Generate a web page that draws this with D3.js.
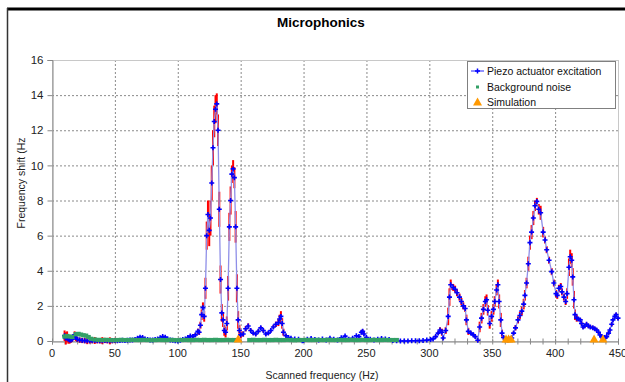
<!DOCTYPE html>
<html>
<head>
<meta charset="utf-8">
<script src="https://cdn.jsdelivr.net/npm/d3@7"></script>
<style>
  body { margin: 0; background: #fff; }
  svg { font-family: "Liberation Sans", Arial, sans-serif; }
</style>
</head>
<body>
<svg id="chart" width="625" height="382"></svg>
<script>
// Piezo actuator excitation: frequency (Hz), shift (Hz), error bar (Hz)
const piezoHz = [10, 11, 12, 13, 14, 15, 16, 17, 18, 19, 20, 22, 24, 26, 28, 30, 32, 34, 36, 38, 40, 42, 44, 46, 48, 50,
  52, 54, 56, 58, 60, 62, 64, 66, 68, 70, 72, 74, 76, 78, 80, 82, 84, 86, 88, 90, 92, 94, 96, 98, 100,
  102, 104, 106, 108, 110, 112, 114, 116, 117, 118, 119, 120, 121, 122, 123, 124, 125, 126, 127, 128, 129, 130,
  131, 132, 133, 134, 135, 136, 137, 138, 139, 140, 141, 142, 143, 144, 145, 146, 147, 148, 149, 150,
  152, 154, 156, 158, 160, 162, 164, 166, 168, 170, 172, 174, 176, 178, 180, 181, 182, 183, 184, 186, 188, 190,
  193, 196, 199, 200, 203, 206, 209, 212, 215, 218, 221, 224, 227, 230, 233, 236, 239, 242, 244, 246, 247, 248, 250,
  253, 256, 259, 262, 265, 268, 271, 274, 277, 280, 283, 286, 289, 292, 295, 298, 301, 303, 305, 307, 308.5, 310,
  311, 313, 315, 316, 317, 319, 320.5, 322, 324, 325.5, 327, 328.5, 329.5, 331, 333, 335, 336.5, 338.5, 340,
  341.5, 343, 344.5, 345.5, 346.5, 348, 349.5, 351, 352, 353.5, 354.5, 355.5, 356.8, 357.8, 359, 360.5, 362.5,
  364, 365.5, 367, 368.5, 370.5, 372, 373.5, 375, 376, 377.3, 378.7, 380, 381.3, 382.7, 384, 385.5, 387, 388.5,
  390.5, 392, 393.3, 395.2, 397.3, 399, 400.7, 401.7, 403, 404.5, 405.5, 407, 408.4, 409.5, 411, 412, 413.2,
  414, 415, 415.8, 417.2, 418.5, 420, 421, 422.2, 423.5, 425, 426.5, 428, 430, 431.5, 433, 434.5, 435.7, 437,
  438, 439.5, 441, 442.5, 443.6, 445, 446, 447.5, 448.5, 450];
const piezoShift = [0.30, 0.15, 0.25, 0.10, 0.05, 0.05, 0.10, 0.20, 0.35, 0.20, 0.10, 0.05, 0.03, 0.02, 0.02, 0.01, 0.02, 0.03, 0.02, 0.01, 0.02, 0.03, 0.02, 0.01, 0.02, 0.03,
  0.02, 0.03, 0.04, 0.03, 0.04, 0.05, 0.06, 0.08, 0.15, 0.22, 0.20, 0.12, 0.08, 0.05, 0.06, 0.08, 0.12, 0.18, 0.25, 0.22, 0.12, 0.06, 0.04, 0.02, 0.00,
  0.04, 0.08, 0.12, 0.20, 0.28, 0.25, 0.35, 0.55, 0.50, 0.90, 1.50, 1.90, 1.40, 3.00, 6.00, 7.20, 6.30, 7.00, 9.00, 11.0, 12.5, 13.2,
  13.5, 12.0, 7.5, 3.5, 1.6, 1.2, 0.6, 0.5, 1.0, 3.0, 6.5, 8.0, 9.5, 9.8, 9.3, 6.5, 3.0, 1.2, 0.6, 0.35,
  0.40, 0.70, 0.85, 0.60, 0.45, 0.40, 0.55, 0.75, 0.60, 0.40, 0.45, 0.60, 0.80, 0.95, 1.05, 1.25, 1.40, 1.00, 0.50, 0.30, 0.20, 0.15,
  0.12, 0.10, 0.02, 0.03, 0.10, 0.14, 0.08, 0.05, 0.12, 0.06, 0.15, 0.10, 0.05, 0.18, 0.28, 0.10, 0.15, 0.30, 0.25, 0.50, 0.55, 0.40, 0.20,
  0.10, 0.06, 0.10, 0.14, 0.12, 0.08, 0.03, 0.01, 0.00, 0.00, 0.00, 0.01, 0.01, 0.02, 0.03, 0.05, 0.08, 0.12, 0.25, 0.45, 0.63, 0.50,
  0.17, 0.60, 1.40, 2.50, 3.20, 3.05, 2.95, 2.75, 2.50, 2.25, 2.00, 1.85, 1.20, 0.55, 0.45, 0.35, 0.25, 0.04, 0.80,
  1.30, 1.80, 2.25, 2.35, 1.75, 1.00, 1.40, 1.80, 2.25, 2.90, 3.20, 2.25, 1.20, 0.45, 0.20, 0.10, 0.05,
  0.10, 0.17, 0.45, 0.75, 1.20, 1.45, 1.70, 2.10, 2.60, 3.30, 4.40, 5.60, 6.20, 7.00, 7.70, 7.95, 7.50, 7.30,
  6.20, 5.75, 5.20, 4.60, 3.95, 3.30, 2.70, 2.60, 3.00, 3.10, 2.80, 2.50, 2.25, 2.70, 4.20, 4.80, 4.60,
  3.65, 2.35, 1.50, 1.30, 1.25, 1.20, 1.00, 0.80, 0.85, 0.95, 0.85, 0.80, 0.75, 0.70, 0.63, 0.50, 0.34, 0.25,
  0.17, 0.20, 0.25, 0.45, 0.63, 0.95, 1.20, 1.40, 1.50, 1.30];
const piezoErr = [0.30, 0.35, 0.30, 0.25, 0.20, 0.15, 0.15, 0.15, 0.20, 0.20, 0.15, 0.15, 0.15, 0.15, 0.20, 0.15, 0.15, 0.20, 0.15, 0.15, 0.20, 0.15, 0.15, 0.20, 0.15, 0.15,
  0.10, 0.08, 0.06, 0.05, 0.05, 0.05, 0.05, 0.05, 0.05, 0.06, 0.06, 0.05, 0.05, 0.05, 0.05, 0.05, 0.05, 0.06, 0.06, 0.06, 0.05, 0.05, 0.05, 0.05, 0.05,
  0.05, 0.05, 0.05, 0.06, 0.08, 0.08, 0.10, 0.15, 0.15, 0.20, 0.30, 0.30, 0.30, 0.60, 0.80, 0.80, 0.90, 1.00, 1.00, 1.00, 0.90, 0.80,
  0.60, 0.90, 1.00, 0.80, 0.50, 0.40, 0.30, 0.30, 0.40, 0.70, 0.80, 0.80, 0.50, 0.50, 0.60, 0.90, 0.80, 0.50, 0.30, 0.20,
  0.15, 0.15, 0.15, 0.10, 0.10, 0.10, 0.10, 0.10, 0.10, 0.10, 0.10, 0.10, 0.10, 0.15, 0.20, 0.25, 0.30, 0.30, 0.20, 0.10, 0.05, 0.05,
  0.05, 0.05, 0.08, 0.08, 0.05, 0.05, 0.05, 0.05, 0.05, 0.05, 0.05, 0.05, 0.05, 0.05, 0.05, 0.05, 0.05, 0.05, 0.08, 0.10, 0.10, 0.10, 0.05,
  0.05, 0.05, 0.05, 0.05, 0.05, 0.05, 0.03, 0.03, 0.02, 0.02, 0.02, 0.02, 0.02, 0.02, 0.02, 0.03, 0.03, 0.05, 0.08, 0.10, 0.15, 0.20,
  0.10, 0.20, 0.50, 0.50, 0.30, 0.20, 0.20, 0.20, 0.20, 0.20, 0.20, 0.20, 0.30, 0.20, 0.10, 0.10, 0.10, 0.10, 0.30,
  0.30, 0.30, 0.30, 0.30, 0.30, 0.30, 0.30, 0.30, 0.30, 0.30, 0.30, 0.40, 0.40, 0.20, 0.10, 0.05, 0.05,
  0.05, 0.10, 0.10, 0.15, 0.20, 0.20, 0.25, 0.30, 0.30, 0.30, 0.40, 0.40, 0.40, 0.40, 0.30, 0.20, 0.30, 0.40,
  0.30, 0.20, 0.20, 0.20, 0.20, 0.20, 0.20, 0.20, 0.20, 0.20, 0.20, 0.20, 0.20, 0.30, 0.50, 0.40, 0.40,
  0.50, 0.50, 0.30, 0.20, 0.10, 0.10, 0.10, 0.10, 0.10, 0.10, 0.10, 0.10, 0.10, 0.10, 0.10, 0.10, 0.10, 0.10,
  0.10, 0.10, 0.10, 0.10, 0.10, 0.10, 0.10, 0.10, 0.10, 0.10];

// Background noise
const noiseHz = [10, 12, 14, 16, 19, 21, 23, 25, 27, 29, 31, 34, 37, 40, 43, 46, 49, 52, 55, 58, 61, 64, 67, 70,
  73, 76, 79, 82, 85, 88, 91, 94, 97, 100, 103, 106, 109, 112, 115, 118, 121, 124, 127, 130, 133, 136, 139, 142, 145,
  157, 160, 163, 166, 169, 172, 175, 178, 181, 184, 187, 190, 193, 196, 199, 202, 205, 208, 211, 214, 217, 220,
  223, 226, 229, 232, 235, 238, 241, 244, 247, 250, 253, 256, 259, 262, 265, 268, 271, 274];
const noiseShift = [0.25, 0.28, 0.25, 0.22, 0.38, 0.40, 0.36, 0.32, 0.30, 0.22, 0.12, 0.08, 0.06, 0.05, 0.06, 0.05, 0.04, 0.05, 0.06, 0.05, 0.05, 0.06, 0.05, 0.05,
  0.06, 0.05, 0.04, 0.05, 0.06, 0.05, 0.05, 0.06, 0.05, 0.04, 0.05, 0.06, 0.05, 0.05, 0.06, 0.05, 0.06, 0.05, 0.05, 0.06, 0.05, 0.05, 0.06, 0.05, 0.05,
  0.05, 0.06, 0.05, 0.05, 0.06, 0.05, 0.05, 0.06, 0.05, 0.05, 0.06, 0.05, 0.04, 0.05, 0.05, 0.06, 0.05, 0.05, 0.06, 0.05, 0.05, 0.06,
  0.05, 0.05, 0.06, 0.05, 0.05, 0.06, 0.05, 0.05, 0.06, 0.05, 0.05, 0.06, 0.05, 0.05, 0.06, 0.05, 0.05, 0.05];

// Simulation
const simHz = [148, 361, 363, 365, 431, 438];
const simShift = [0, 0, 0, 0, 0, 0];

const xTicks = [0, 50, 100, 150, 200, 250, 300, 350, 400, 450];
const yTicks = [0, 2, 4, 6, 8, 10, 12, 14, 16];

const W = 625, H = 382;
const margin = { top: 60, right: 7, bottom: 41, left: 52 };
const iw = W - margin.left - margin.right;
const ih = H - margin.top - margin.bottom;

const svg = d3.select('#chart');

// page frame of the scanned document
svg.append('line').attr('x1', 7).attr('x2', W).attr('y1', 9).attr('y2', 9)
  .attr('stroke', '#000').attr('stroke-width', 3);
svg.append('line').attr('x1', 7.5).attr('x2', 7.5).attr('y1', 8).attr('y2', H)
  .attr('stroke', '#333').attr('stroke-width', 1.5);

svg.append('text').attr('x', 321).attr('y', 27).attr('text-anchor', 'middle')
  .attr('font-size', 13.5).attr('font-weight', 'bold').text('Microphonics');

const g = svg.append('g').attr('transform', 'translate(' + margin.left + ',' + margin.top + ')');

const x = d3.scaleLinear().domain([0, 450]).range([0, iw]);
const y = d3.scaleLinear().domain([0, 16]).range([ih, 0]);

// grid
g.append('g').selectAll('line').data(yTicks.filter(d => d > 0 && d < 16)).enter().append('line')
  .attr('x1', 0).attr('x2', iw).attr('y1', d => y(d) + 0.5).attr('y2', d => y(d) + 0.5)
  .attr('stroke', '#8a8a8a').attr('stroke-dasharray', '2,2');
g.append('g').selectAll('line').data(xTicks.filter(d => d > 0 && d < 450)).enter().append('line')
  .attr('y1', 0).attr('y2', ih).attr('x1', d => x(d) + 0.5).attr('x2', d => x(d) + 0.5)
  .attr('stroke', '#8a8a8a').attr('stroke-dasharray', '2,2');
g.append('rect').attr('x', 0.5).attr('y', 0.5).attr('width', iw).attr('height', ih)
  .attr('fill', 'none').attr('stroke', '#c8c8c8');

// axes
const xAxis = g.append('g').attr('transform', 'translate(0,' + (ih + 0.5) + ')')
  .call(d3.axisBottom(x).tickValues(d3.range(0, 451, 10)).tickSize(3).tickFormat(''));
xAxis.select('.domain').attr('stroke', '#888');
xAxis.selectAll('.tick line').attr('stroke', '#888').attr('y1', -3);
g.append('g').selectAll('text').data(xTicks).enter().append('text')
  .attr('x', d => x(d)).attr('y', ih + 16).attr('text-anchor', 'middle')
  .attr('font-size', 11).attr('fill', '#222').text(d => d);

const yAxis = g.append('g').attr('transform', 'translate(0.5,0)')
  .call(d3.axisLeft(y).tickValues(yTicks).tickSize(5).tickPadding(4));
yAxis.select('.domain').attr('stroke', '#888');
yAxis.selectAll('.tick line').attr('stroke', '#888');
yAxis.selectAll('.tick text').attr('font-size', 11.5).attr('fill', '#222')
  .attr('font-family', '"Liberation Sans", Arial, sans-serif');

svg.append('text').attr('x', 322).attr('y', 379).attr('text-anchor', 'middle')
  .attr('font-size', 10.5).attr('fill', '#222').text('Scanned frequency (Hz)');
svg.append('text').attr('transform', 'translate(25,183) rotate(-90)').attr('text-anchor', 'middle')
  .attr('font-size', 10.5).attr('fill', '#222').text('Frequency shift (Hz');

const piezo = piezoHz.map((f, i) => ({ f: f, v: piezoShift[i], e: piezoErr[i] }));
const noise = noiseHz.map((f, i) => ({ f: f, v: noiseShift[i] }));
const sim = simHz.map((f, i) => ({ f: f, v: simShift[i] }));

// error bars
g.append('g').selectAll('line').data(piezo).enter().append('line')
  .attr('x1', d => x(d.f)).attr('x2', d => x(d.f))
  .attr('y1', d => y(d.v - d.e)).attr('y2', d => y(d.v + d.e))
  .attr('stroke', '#ff0000').attr('stroke-width', 2);

// piezo line and markers
g.append('path').datum(piezo)
  .attr('d', d3.line().x(d => x(d.f)).y(d => y(d.v)))
  .attr('fill', 'none').attr('stroke', '#8f8fe8').attr('stroke-width', 1.3);
g.append('g').selectAll('path').data(piezo).enter().append('path')
  .attr('transform', d => 'translate(' + x(d.f) + ',' + y(d.v) + ')')
  .attr('d', 'M-2.5,0H2.5M0,-2.5V2.5')
  .attr('stroke', '#0000ff').attr('stroke-width', 1.6);

// background noise band (drawn over the piezo markers as in the reference)
g.append('g').selectAll('rect').data(noise).enter().append('rect')
  .attr('x', d => x(d.f) - 2.3).attr('y', d => y(d.v) - 2.2)
  .attr('width', 4.6).attr('height', 4.2).attr('fill', '#33a066');

// simulation
g.append('g').selectAll('path').data(sim).enter().append('path')
  .attr('transform', d => 'translate(' + x(d.f) + ',' + (y(d.v) - 2) + ')')
  .attr('d', 'M0,-4.5L4.5,3.5L-4.5,3.5Z')
  .attr('fill', '#ff9900');

// legend
const lg = svg.append('g').attr('transform', 'translate(467,61)');
lg.append('rect').attr('x', 0.5).attr('y', 0.5).attr('width', 148).attr('height', 47)
  .attr('fill', '#fff').attr('stroke', '#808080');
lg.append('line').attr('x1', 4).attr('x2', 17).attr('y1', 10).attr('y2', 10)
  .attr('stroke', '#5555ff').attr('stroke-width', 1.3);
lg.append('path').attr('transform', 'translate(10.5,10)').attr('d', 'M-2.5,0H2.5M0,-2.5V2.5')
  .attr('stroke', '#0000ff').attr('stroke-width', 1.5);
lg.append('rect').attr('x', 9).attr('y', 24.5).attr('width', 3).attr('height', 3).attr('fill', '#33a066');
lg.append('path').attr('transform', 'translate(10.5,41)').attr('d', 'M0,-4.5L4.5,3.5L-4.5,3.5Z')
  .attr('fill', '#ff9900');
const labels = ['Piezo actuator excitation', 'Background noise', 'Simulation'];
lg.selectAll('text.lab').data(labels).enter().append('text').attr('class', 'lab')
  .attr('x', 20).attr('y', (d, i) => [14, 30, 45][i])
  .attr('font-size', 10.5).attr('fill', '#111').text(d => d);
</script>
</body>
</html>
